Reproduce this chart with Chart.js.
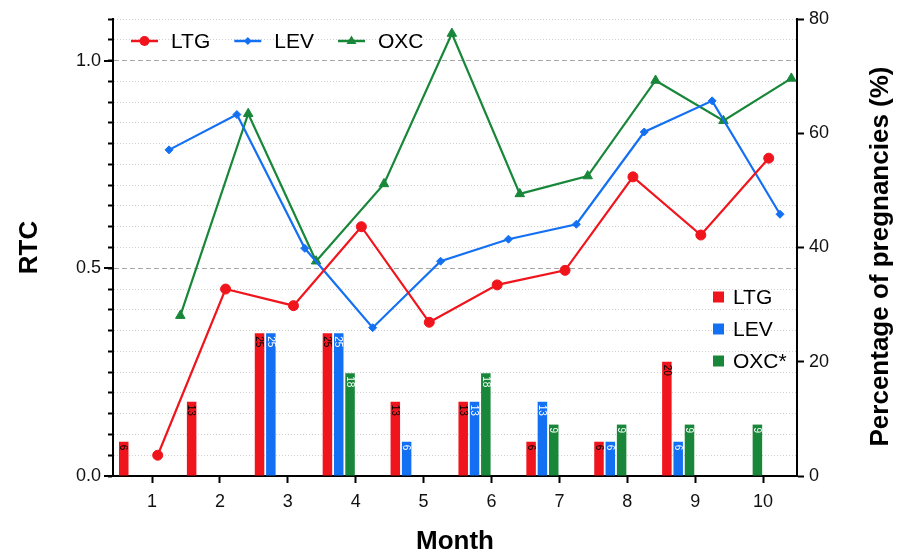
<!DOCTYPE html>
<html>
<head>
<meta charset="utf-8">
<script src="https://cdn.jsdelivr.net/npm/chart.js@4/dist/chart.umd.min.js"></script>
<style>
  html, body { margin: 0; padding: 0; background: #ffffff; }
  #c { display: block; }
</style>
</head>
<body>
<canvas id="c" width="912" height="552"></canvas>
<script>
// ---- data ----
const months = [1, 2, 3, 4, 5, 6, 7, 8, 9, 10];

// RTC by month (lines, left axis)
const rtcLTG = [0.05, 0.45, 0.41, 0.60, 0.37, 0.46, 0.495, 0.72, 0.58, 0.765];
const rtcLEV = [0.785, 0.87, 0.548, 0.357, 0.517, 0.57, 0.606, 0.828, 0.903, 0.63];
const rtcOXC = [0.386, 0.872, 0.517, 0.703, 1.065, 0.679, 0.722, 0.952, 0.855, 0.957];

// Percentage of pregnancies by month (bars, right axis)
const pctLTG = [6, 13, 25, 25, 13, 13, 6, 6, 20, null];
const pctLEV = [null, null, 25, 25, 6, 13, 13, 6, 6, null];
const pctOXC = [null, null, null, 18, null, 18, 9, 9, 9, 9];

const rtcLabelTicks = [0.0, 0.5, 1.0];
const pctTicks = [0, 20, 40, 60, 80];

const lineNames = ['LTG', 'LEV', 'OXC'];
const barNames = ['LTG', 'LEV', 'OXC*'];

// ---- style ----
const FONT = '"Liberation Sans", Arial, Helvetica, sans-serif';
const RED = '#f0151d';
const BLUE = '#1470f2';
const GREEN = '#18873a';

// each month is split in six slots: three bars on the left half, three line points on the right half
const BAR_SHIFT = -0.25;
const LINE_SHIFT = [1 / 12, 3 / 12, 5 / 12];

Chart.defaults.font.family = FONT;
Chart.defaults.color = '#111';

const toPoints = (vals, shift) => months.map((m, i) => ({ x: m + shift, y: vals[i] }));

function barSet(label, vals, color, textColor) {
  return {
    type: 'bar', label, data: toPoints(vals, BAR_SHIFT),
    xAxisID: 'x', yAxisID: 'y1',
    backgroundColor: color, borderWidth: 0,
    categoryPercentage: 0.5, barPercentage: 0.84,
    order: 2, valueColor: textColor
  };
}
function lineSet(label, vals, shift, color, pointStyle, radius) {
  return {
    type: 'line', label, data: toPoints(vals, shift),
    xAxisID: 'x', yAxisID: 'y',
    borderColor: color, backgroundColor: color, borderWidth: 2.2,
    pointStyle, pointRadius: radius, pointBackgroundColor: color, pointBorderColor: color,
    pointBorderWidth: 1, tension: 0, order: 1
  };
}

// values written vertically inside the top of each bar
const barValues = {
  id: 'barValues',
  afterDatasetsDraw(chart) {
    const ctx = chart.ctx;
    chart.data.datasets.forEach((ds, di) => {
      if (ds.type !== 'bar') return;
      const meta = chart.getDatasetMeta(di);
      meta.data.forEach((el, i) => {
        const v = ds.data[i].y;
        if (v === null || v === undefined) return;
        ctx.save();
        ctx.translate(el.x, el.y + 3);
        ctx.rotate(Math.PI / 2);
        ctx.font = '10px ' + FONT;
        ctx.fillStyle = ds.valueColor;
        ctx.textAlign = 'left';
        ctx.textBaseline = 'middle';
        ctx.fillText(String(v), 0, 0.5);
        ctx.restore();
      });
    });
  }
};

function drawMarker(ctx, style, x, y, r, color) {
  ctx.fillStyle = color;
  ctx.beginPath();
  if (style === 'circle') {
    ctx.arc(x, y, r, 0, Math.PI * 2);
  } else if (style === 'rectRot') {
    ctx.moveTo(x, y - r); ctx.lineTo(x + r, y); ctx.lineTo(x, y + r); ctx.lineTo(x - r, y);
    ctx.closePath();
  } else if (style === 'triangle') {
    ctx.moveTo(x, y - r); ctx.lineTo(x + r * 0.9, y + r * 0.55); ctx.lineTo(x - r * 0.9, y + r * 0.55);
    ctx.closePath();
  }
  ctx.fill();
}

// two in-plot legends, longer ticks at the labelled RTC values, and the right axis title
const decorations = {
  id: 'decorations',
  afterDraw(chart) {
    const ctx = chart.ctx;
    const area = chart.chartArea;
    const yScale = chart.scales.y;
    ctx.save();

    // longer tick marks at the labelled RTC values
    ctx.strokeStyle = '#000';
    ctx.lineWidth = 2;
    rtcLabelTicks.forEach(v => {
      const py = Math.round(yScale.getPixelForValue(v));
      ctx.beginPath(); ctx.moveTo(area.left - 9, py); ctx.lineTo(area.left, py); ctx.stroke();
    });

    ctx.font = '21px ' + FONT;
    ctx.textBaseline = 'middle';
    ctx.textAlign = 'left';

    // line legend, top left
    const lineStyles = [['circle', 5, RED], ['rectRot', 4, BLUE], ['triangle', 5.5, GREEN]];
    let x = area.left + 18;
    const ly = area.top + 22;
    lineNames.forEach((name, i) => {
      const [st, r, col] = lineStyles[i];
      ctx.strokeStyle = col;
      ctx.lineWidth = 2.5;
      ctx.beginPath(); ctx.moveTo(x, ly); ctx.lineTo(x + 27, ly); ctx.stroke();
      drawMarker(ctx, st, x + 13.5, ly, r, col);
      ctx.fillStyle = '#000';
      ctx.fillText(name, x + 40, ly + 1);
      x += 40 + ctx.measureText(name).width + 24;
    });

    // bar legend, lower right
    const barCols = [RED, BLUE, GREEN];
    const bx = area.right - 84;
    let by = area.top + 278;
    barNames.forEach((name, i) => {
      ctx.fillStyle = barCols[i];
      ctx.fillRect(bx, by - 5.5, 11, 11);
      ctx.fillStyle = '#000';
      ctx.fillText(name, bx + 20, by + 1);
      by += 32;
    });

    // right axis title, reading bottom to top
    ctx.save();
    ctx.translate(881, (area.top + area.bottom) / 2 + 9);
    ctx.rotate(-Math.PI / 2);
    ctx.font = 'bold 26px ' + FONT;
    ctx.textAlign = 'center';
    ctx.fillStyle = '#000';
    ctx.fillText('Percentage of pregnancies (%)', 0, 0);
    ctx.restore();

    ctx.restore();
  }
};

const isLabelTick = v => rtcLabelTicks.some(t => Math.abs(t - v) < 1e-6);

new Chart(document.getElementById('c'), {
  data: {
    datasets: [
      lineSet(lineNames[0], rtcLTG, LINE_SHIFT[0], RED, 'circle', 5),
      lineSet(lineNames[1], rtcLEV, LINE_SHIFT[1], BLUE, 'rectRot', 4),
      lineSet(lineNames[2], rtcOXC, LINE_SHIFT[2], GREEN, 'triangle', 5.5),
      barSet(barNames[0], pctLTG, RED, '#000'),
      barSet(barNames[1], pctLEV, BLUE, '#fff'),
      barSet(barNames[2], pctOXC, GREEN, '#fff')
    ]
  },
  options: {
    responsive: false,
    animation: false,
    layout: { padding: { top: 19, left: 0, right: 0, bottom: 0 } },
    plugins: { legend: { display: false }, tooltip: { enabled: false } },
    scales: {
      x: {
        type: 'linear', position: 'bottom', min: 0.425, max: 10.5, offset: false,
        afterBuildTicks: s => { s.ticks = months.map(v => ({ value: v })); },
        afterFit: s => { s.height = 76; },
        ticks: { font: { size: 18 }, color: '#111', padding: 8, callback: v => String(v) },
        grid: { offset: false, drawOnChartArea: false, drawTicks: true, tickLength: 7, tickWidth: 2, tickColor: '#000' },
        border: { color: '#000', width: 2 },
        title: { display: true, text: 'Month', font: { size: 26, weight: 'bold' }, color: '#000', padding: { top: 0, bottom: -5 } }
      },
      y: {
        type: 'linear', position: 'left', min: 0, max: 1.1,
        afterFit: s => { s.width = 113; },
        ticks: {
          stepSize: 0.05, autoSkip: false, font: { size: 18 }, color: '#111', padding: 7,
          callback: v => isLabelTick(v) ? v.toFixed(1) : ''
        },
        grid: {
          drawTicks: true, tickLength: 5, tickWidth: 2, tickColor: '#000', lineWidth: 1,
          color: c => (c.tick && isLabelTick(c.tick.value)) ? '#a8a8a8' : '#cfcfcf'
        },
        border: {
          color: '#000', width: 2,
          dash: c => c.tick ? (isLabelTick(c.tick.value) ? [5, 3] : [1, 2]) : []
        },
        title: { display: true, text: 'RTC', font: { size: 26, weight: 'bold' }, color: '#000', padding: { top: 14 } }
      },
      y1: {
        type: 'linear', position: 'right', min: 0, max: 80,
        afterFit: s => { s.width = 115; },
        afterBuildTicks: s => { s.ticks = pctTicks.map(v => ({ value: v })); },
        ticks: { font: { size: 18 }, color: '#111', padding: 5 },
        grid: { drawOnChartArea: false, drawTicks: true, tickLength: 7, tickWidth: 2, tickColor: '#000' },
        border: { color: '#000', width: 2 }
      }
    }
  },
  plugins: [barValues, decorations]
});
</script>
</body>
</html>
